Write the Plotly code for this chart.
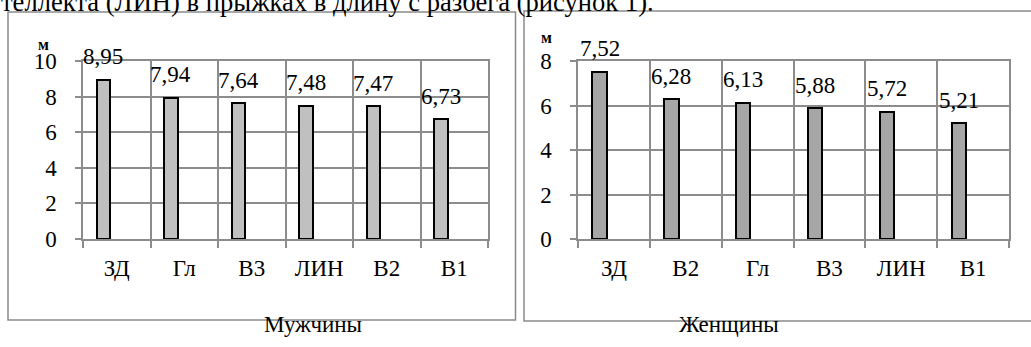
import plotly.graph_objects as go

# ---- data ----
men_categories = ["ЗД", "Гл", "В3", "ЛИН", "В2", "В1"]
men_values = [8.95, 7.94, 7.64, 7.48, 7.47, 6.73]
men_labels = ["8,95", "7,94", "7,64", "7,48", "7,47", "6,73"]

women_categories = ["ЗД", "В2", "Гл", "В3", "ЛИН", "В1"]
women_values = [7.52, 6.28, 6.13, 5.88, 5.72, 5.21]
women_labels = ["7,52", "6,28", "6,13", "5,88", "5,72", "5,21"]

men_title = "Мужчины"
women_title = "Женщины"
unit = "м"
top_text = "теллекта (ЛИН) в прыжках в длину с разбега (рисунок 1)."

W, H = 1031, 347
FONT = "Liberation Serif"
FS = 23
GRID = "#8c8c8c"


def px(x):
    return x / W


def py(y):
    return 1 - y / H


fig = go.Figure()

panels = [
    dict(cats=men_categories, vals=men_values, labels=men_labels, color="#c0c0c0",
         xa="x", ya="y", xdom=(83, 488), ymax=10),
    dict(cats=women_categories, vals=women_values, labels=women_labels, color="#a6a6a6",
         xa="x2", ya="y2", xdom=(578, 1009), ymax=8),
]

for i, p in enumerate(panels):
    n = len(p["cats"])
    xs = list(range(n))
    fig.add_trace(go.Bar(
        x=xs, y=p["vals"], xaxis=p["xa"], yaxis=p["ya"],
        width=0.2, offset=-0.3,
        marker=dict(color=p["color"], line=dict(color="black", width=2)),
        showlegend=False, hoverinfo="skip",
    ))
    for xi, v, lab in zip(xs, p["vals"], p["labels"]):
        fig.add_annotation(
            x=xi - 0.2, y=v, xref=p["xa"], yref=p["ya"], text=lab,
            showarrow=False, yanchor="middle", yshift=23,
            font=dict(family=FONT, size=FS, color="black"),
        )
    sfx = "" if i == 0 else "2"
    axis_common = dict(
        showline=True, mirror=True, linecolor=GRID, linewidth=1.5,
        showgrid=False, zeroline=False, fixedrange=True, automargin=False,
        tickfont=dict(family=FONT, size=FS, color="black"),
    )
    fig.update_layout(**{
        "xaxis" + sfx: dict(
            axis_common,
            domain=[px(p["xdom"][0]), px(p["xdom"][1])],
            range=[-0.5, n - 0.5],
            tickmode="array", tickvals=xs, ticktext=p["cats"],
            ticks="", ticklabelstandoff=8,
            minor=dict(tickmode="array", tickvals=[k - 0.5 for k in range(n + 1)],
                       showgrid=True, gridcolor=GRID, gridwidth=1.5,
                       ticks="outside", ticklen=7, tickcolor=GRID, tickwidth=1.5),
            anchor="y" + sfx,
        ),
        "yaxis" + sfx: dict(
            axis_common,
            domain=[py(239), py(61)],
            range=[0, p["ymax"]], dtick=2, tick0=0,
            showgrid=True, gridcolor=GRID, gridwidth=1.5,
            ticks="outside", ticklen=6, tickcolor=GRID, tickwidth=1.5,
            ticklabelstandoff=14,
            anchor="x" + sfx,
        ),
    })

# panel frames
fig.add_shape(type="rect", xref="paper", yref="paper",
              x0=px(8), x1=px(515.5), y0=py(320), y1=py(12),
              line=dict(color="#8a8a8a", width=1.5))
fig.add_shape(type="rect", xref="paper", yref="paper",
              x0=px(524), x1=px(1040), y0=py(321), y1=py(11),
              line=dict(color="#8a8a8a", width=1.5))

# unit labels
fig.add_annotation(x=px(36), y=py(34), xref="paper", yref="paper", text="<b>" + unit + "</b>",
                   showarrow=False, font=dict(family=FONT, size=16, color="black"))
fig.add_annotation(x=px(546), y=py(27), xref="paper", yref="paper", text="<b>" + unit + "</b>",
                   showarrow=False, font=dict(family=FONT, size=16, color="black"))

# captions
fig.add_annotation(x=px(262), y=py(339), xref="paper", yref="paper", text=men_title,
                   showarrow=False, font=dict(family=FONT, size=FS, color="black"))
fig.add_annotation(x=px(781), y=py(339), xref="paper", yref="paper", text=women_title,
                   showarrow=False, font=dict(family=FONT, size=FS, color="black"))

# cut-off text line at top
fig.add_annotation(x=px(0), y=py(18), xref="paper", yref="paper", text=top_text,
                   xanchor="left", yanchor="bottom", borderpad=0,
                   showarrow=False, font=dict(family=FONT, size=26.6, color="black"))

fig.update_layout(
    template="none",
    width=W, height=H,
    margin=dict(l=0, r=0, t=0, b=0, autoexpand=False),
    paper_bgcolor="white", plot_bgcolor="white",
    bargap=0, showlegend=False,
)

fig.write_html(
    "out.html",
    config={"displayModeBar": False},
    post_script="document.body.style.margin='0';document.body.style.overflow='hidden';",
)
